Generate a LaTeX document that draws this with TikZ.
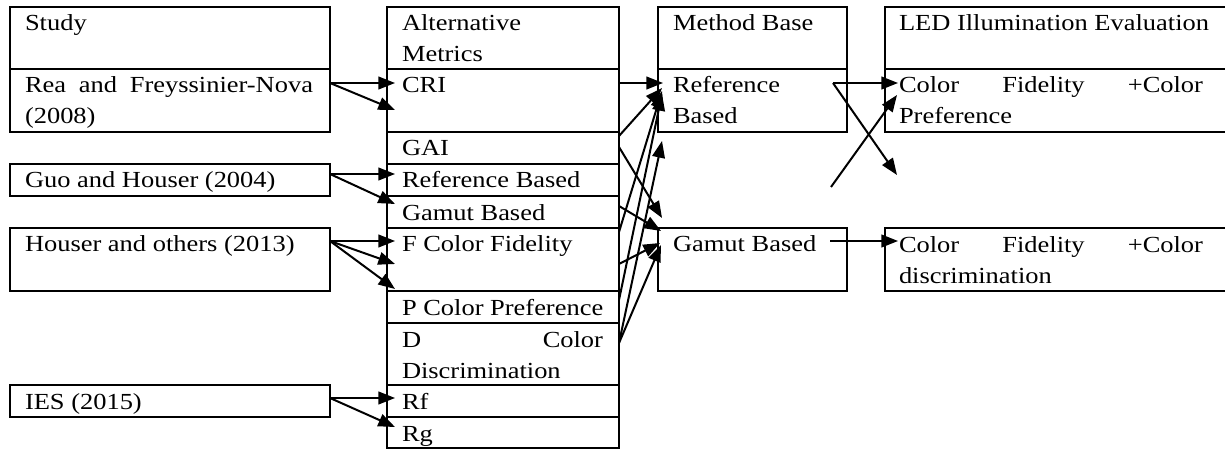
\documentclass[tikz,border=0pt]{standalone}
\usepackage{fontspec}
\setmainfont{Liberation Serif}[FakeStretch=1.15]
\usetikzlibrary{arrows.meta,calc,fit}
\newcommand\tstrut{\rule{0pt}{18pt}}
\tikzset{
  cellbox/.style={draw, line width=1.5pt, inner sep=0pt, outer sep=0pt, rectangle},
  txt/.style={anchor=north west, inner sep=0pt, outer sep=0pt, align=left},
  link/.style={line width=1.5pt, -{Triangle[length=12.5pt,width=9.5pt]}},
}
\begin{document}
\begin{tikzpicture}[x=0.75pt, y=-0.75pt, font=\fontsize{17.25pt}{23.25pt}\selectfont]
\useasboundingbox (0,0) rectangle (1225,449);
\clip (0,0) rectangle (1225,449);

% ---- column 1: studies
\node[cellbox, fit={(10,7) (330,69)}]    (studyhd) {};
\node[cellbox, fit={(10,69) (330,132)}]  (rea) {};
\node[cellbox, fit={(10,164) (330,196)}] (guo) {};
\node[cellbox, fit={(10,228) (330,291)}] (houser) {};
\node[cellbox, fit={(10,385) (330,417)}] (ies) {};

\node[txt] (studyhd-t) at ($(studyhd.north west)+(15,0)$) {\tstrut Study};
\node[txt] (rea-t) at ($(rea.north west)+(15,0)$) {\tstrut\makebox[216pt][s]{Rea and Freyssinier-Nova}\\(2008)};
\node[txt] (guo-t) at ($(guo.north west)+(15,0)$) {\tstrut Guo and Houser (2004)};
\node[txt] (houser-t) at ($(houser.north west)+(15,0)$) {\tstrut Houser and others (2013)};
\node[txt] (ies-t) at ($(ies.north west)+(15,0)$) {\tstrut IES (2015)};

% ---- column 2: alternative metrics
\node[cellbox, fit={(387,7) (619,69)}]    (althd) {};
\node[cellbox, fit={(387,69) (619,132)}]  (cri) {};
\node[cellbox, fit={(387,132) (619,164)}] (gai) {};
\node[cellbox, fit={(387,164) (619,196)}] (refb) {};
\node[cellbox, fit={(387,196) (619,228)}] (gamb) {};
\node[cellbox, fit={(387,228) (619,291)}] (fcf) {};
\node[cellbox, fit={(387,291) (619,323)}] (pcp) {};
\node[cellbox, fit={(387,323) (619,385)}] (dcd) {};
\node[cellbox, fit={(387,385) (619,417)}] (rf) {};
\node[cellbox, fit={(387,417) (619,448)}] (rg) {};

\node[txt] (althd-t) at ($(althd.north west)+(15,0)$) {\tstrut Alternative\\Metrics};
\node[txt] (cri-t) at ($(cri.north west)+(15,0)$) {\tstrut CRI};
\node[txt] (gai-t) at ($(gai.north west)+(15,0)$) {\tstrut GAI};
\node[txt] (refb-t) at ($(refb.north west)+(15,0)$) {\tstrut Reference Based};
\node[txt] (gamb-t) at ($(gamb.north west)+(15,0)$) {\tstrut Gamut Based};
\node[txt] (fcf-t) at ($(fcf.north west)+(15,0)$) {\tstrut F Color Fidelity};
\node[txt] (pcp-t) at ($(pcp.north west)+(15,0)$) {\tstrut P Color Preference};
\node[txt] (dcd-t) at ($(dcd.north west)+(15,0)$) {\tstrut\makebox[150.75pt][s]{D Color}\\Discrimination};
\node[txt] (rf-t) at ($(rf.north west)+(15,0)$) {\tstrut Rf};
\node[txt] (rg-t) at ($(rg.north west)+(15,0)$) {\tstrut Rg};

% ---- column 3: method base
\node[cellbox, fit={(658,7) (847,69)}]   (methd) {};
\node[cellbox, fit={(658,69) (847,132)}] (mref) {};
\node[cellbox, fit={(658,228) (847,291)}] (mgam) {};

\node[txt] (methd-t) at ($(methd.north west)+(15,0)$) {\tstrut Method Base};
\node[txt] (mref-t) at ($(mref.north west)+(15,0)$) {\tstrut Reference\\Based};
\node[txt] (mgam-t) at ($(mgam.north west)+(15,0)$) {\tstrut Gamut Based};

% ---- column 4: LED illumination evaluation
\node[cellbox, fit={(885,7) (1230,69)}]   (ledhd) {};
\node[cellbox, fit={(885,69) (1230,132)}] (ledpref) {};
\node[cellbox, fit={(885,228) (1230,291)}] (leddisc) {};

\node[txt] (ledhd-t) at ($(ledhd.north west)+(14,0)$) {\tstrut LED Illumination Evaluation};
\node[txt] (ledpref-t) at ($(ledpref.north west)+(14,0)$) {\tstrut\makebox[228pt][s]{Color Fidelity +Color}\\Preference};
\node[txt] (leddisc-t) at ($(leddisc.north west)+(14,0)$) {\tstrut\makebox[228pt][s]{Color Fidelity +Color}\\discrimination};

% ---- studies -> metrics
\draw[link] ($(rea.north east)+(0,14)$) -- ($(cri.north west)+(8,14)$);
\draw[link] ($(rea.north east)+(0,14)$) -- ($(cri.north west)+(8,41)$);
\draw[link] ($(guo.north east)+(0,10)$) -- ($(refb.north west)+(8,10)$);
\draw[link] ($(guo.north east)+(0,10)$) -- ($(gamb.north west)+(8,8)$);
\draw[link] ($(houser.north east)+(0,13)$) -- ($(fcf.north west)+(8,13)$);
\draw[link] ($(houser.north east)+(0,13)$) -- ($(fcf.north west)+(8,36)$);
\draw[link] ($(houser.north east)+(0,13)$) -- ($(fcf.north west)+(8,61)$);
\draw[link] ($(ies.north east)+(0,13)$) -- ($(rf.north west)+(8,13)$);
\draw[link] ($(ies.north east)+(0,13)$) -- ($(rg.north west)+(8,10)$);

% ---- metrics -> method base
\draw[link] ($(cri.north east)+(0,14)$) -- ($(mref.north west)+(5,14)$);
\draw[link] ($(gai.north east)+(0,4)$)  -- ($(mref.north west)+(4,19)$);
\draw[link] ($(fcf.north east)+(0,4)$)  -- ($(mref.north west)+(4,22)$);
\draw[link] ($(pcp.north east)+(0,9)$)  -- ($(mref.north west)+(4,25)$);
\draw[link] ($(dcd.north east)+(0,20)$) -- ($(mref.south west)+(4,9)$);
\draw[link] ($(gai.north east)+(0,15)$) -- ($(mgam.north west)+(4,-10)$);
\draw[link] ($(gamb.north east)+(0,10)$) -- ($(mgam.north west)+(3,3)$);
\draw[link] ($(fcf.north east)+(0,36)$) -- ($(mgam.north west)+(2,15)$);
\draw[link] ($(dcd.north east)+(0,20)$) -- ($(mgam.north west)+(3,17)$);

% ---- method base -> evaluation
\coordinate (crossend) at (897,175);
\coordinate (crossstart) at (831,187);
\draw[link] ($(mref.north east)+(-14,14)$) -- ($(ledpref.north west)+(13,14)$);
\draw[link] ($(mref.north east)+(-14,14)$) -- (crossend);
\draw[link] (crossstart) -- ($(ledpref.north west)+(12,26)$);
\draw[link] ($(mgam.north east)+(-17,13)$) -- ($(leddisc.north west)+(13,13)$);
\end{tikzpicture}
\end{document}
